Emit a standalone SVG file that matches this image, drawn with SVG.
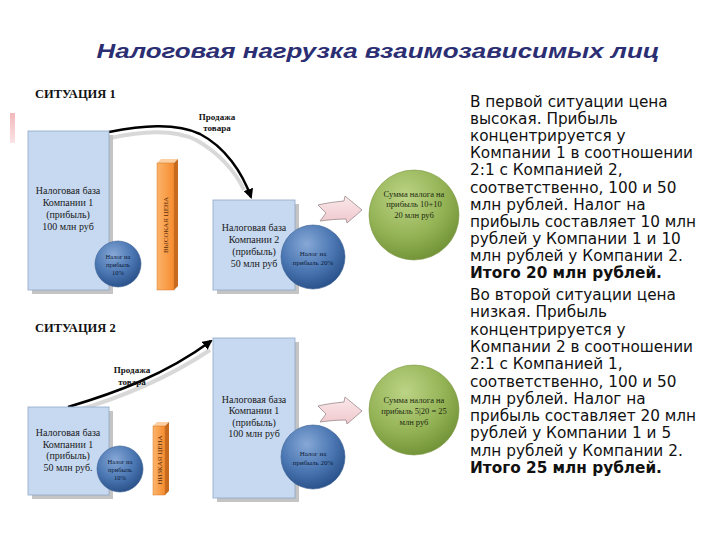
<svg xmlns="http://www.w3.org/2000/svg" width="720" height="540" viewBox="0 0 720 540">
<defs>
<style>
.title{font-family:"Liberation Sans",Arial,sans-serif;font-weight:bold;font-style:italic;font-size:21px;fill:#2b2e72}
.sit{font-family:"Liberation Serif","Times New Roman",serif;font-weight:bold;font-size:12.5px;fill:#111}
.lbl{font-family:"Liberation Serif","Times New Roman",serif;font-size:10px;fill:#1a1a1a;text-anchor:middle}
.sale{font-family:"Liberation Serif","Times New Roman",serif;font-weight:bold;font-size:9px;fill:#111;text-anchor:middle}
.small{font-family:"Liberation Serif","Times New Roman",serif;font-size:6.5px;fill:#0d1c38;text-anchor:middle}
.mid{font-family:"Liberation Serif","Times New Roman",serif;font-size:7px;fill:#0d1c38;text-anchor:middle}
.grn{font-family:"Liberation Serif","Times New Roman",serif;font-size:8.5px;fill:#1d2a10;text-anchor:middle}
.bar{font-family:"Liberation Serif","Times New Roman",serif;font-size:7px;fill:#5a2d0a;text-anchor:middle}
.body{font-family:"DejaVu Sans",Verdana,sans-serif;font-size:15.3px;fill:#111}
.box{fill:#c6d9f1;stroke:#8fa8c6;stroke-width:0.8}
.shadow{fill:#c4c4c4}
.curve{fill:none;stroke:#000;stroke-width:2.5}
.curveSh{fill:none;stroke:#d8d8d8;stroke-width:4}
.pink{fill:url(#pinkG);stroke:#9a8a8c;stroke-width:0.8}
</style>
<radialGradient id="blueG" cx="40%" cy="30%" r="70%">
<stop offset="0" stop-color="#86a8d6"/><stop offset="0.6" stop-color="#4a76b2"/><stop offset="1" stop-color="#2c538c"/>
</radialGradient>
<radialGradient id="greenG" cx="40%" cy="30%" r="75%">
<stop offset="0" stop-color="#bcd486"/><stop offset="0.6" stop-color="#93b254"/><stop offset="1" stop-color="#6f8f35"/>
</radialGradient>
<linearGradient id="orG" x1="0" y1="0" x2="1" y2="0">
<stop offset="0" stop-color="#fcb46c"/><stop offset="1" stop-color="#f68c2e"/>
</linearGradient>
<linearGradient id="pinkG" x1="0" y1="0" x2="0" y2="1">
<stop offset="0" stop-color="#fbe8ea"/><stop offset="1" stop-color="#efc8cd"/>
</linearGradient>
<linearGradient id="markG" x1="0" y1="0" x2="0" y2="1">
<stop offset="0" stop-color="#f2b8bb"/><stop offset="1" stop-color="#fbe4e5"/>
</linearGradient>
<marker id="ah" viewBox="0 0 10 10" refX="8" refY="5" markerWidth="4" markerHeight="4" orient="auto">
<path d="M0,0 L10,5 L0,10 z" fill="#000"/>
</marker>
</defs>
<rect width="720" height="540" fill="#fff"/>

<text class="title" x="378" y="58" text-anchor="middle" textLength="563" lengthAdjust="spacingAndGlyphs">Налоговая нагрузка взаимозависимых лиц</text>

<rect x="10" y="113" width="5" height="30" fill="url(#markG)"/>

<text class="sit" x="35" y="98">СИТУАЦИЯ 1</text>
<text class="sit" x="35" y="332">СИТУАЦИЯ 2</text>

<g id="connectors">
<path class="curveSh" d="M110,138 C140,132 172,128 196,140 C218,152 236,172 244,190"/>
<path class="curve" d="M109,132 C140,126 175,122 200,134 C225,147 242,172 251,197" marker-end="url(#ah)"/>
<path class="curveSh" d="M72,412 C120,398 165,380 210,350"/>
<path class="curve" d="M68,407 C115,393 165,375 211,341" marker-end="url(#ah)"/>
<path class="pink" d="M318,205 C326,203 334,202 344,201 L345,196 L362,210 L347,223 L346,219 C336,219 328,220 320,221 L326,213 Z"/>
<path class="pink" d="M318,406 C326,404 334,403 344,402 L345,397 L362,411 L347,424 L346,420 C336,420 328,421 320,422 L326,414 Z"/>
</g>

<g id="s1-company1">
<rect class="shadow" x="32" y="135" width="81" height="159"/>
<rect class="box" x="28" y="131" width="81" height="159"/>
<text class="lbl" x="68" y="194">Налоговая база</text>
<text class="lbl" x="68" y="206">Компании 1</text>
<text class="lbl" x="68" y="218">(прибыль)</text>
<text class="lbl" x="68" y="230">100 млн руб</text>
</g>
<g id="s1-tax1">
<circle cx="118" cy="264" r="23" fill="url(#blueG)" stroke="#3a5f92" stroke-width="0.6"/>
<text class="small" x="118" y="259">Налог на</text>
<text class="small" x="118" y="267">прибыль</text>
<text class="small" x="118" y="275">10%</text>
</g>
<g id="s1-price">
<path d="M157,163 L161,159 L178,159 L174,163 Z" fill="#fcd0a2"/>
<path d="M174,163 L178,159 L178,286 L174,290 Z" fill="#c86a1e"/>
<rect x="157" y="163" width="17" height="127" fill="url(#orG)" stroke="#d27a2a" stroke-width="0.5"/>
<text class="bar" transform="translate(168,225) rotate(-90)">ВЫСОКАЯ ЦЕНА</text>
</g>
<g id="s1-sale">
<text class="sale" x="217" y="120">Продажа</text>
<text class="sale" x="217" y="131">товара</text>
</g>
<g id="s1-company2">
<rect class="shadow" x="217" y="204" width="82" height="90"/>
<rect class="box" x="213" y="200" width="82" height="90"/>
<text class="lbl" x="254" y="231">Налоговая база</text>
<text class="lbl" x="254" y="243">Компании 2</text>
<text class="lbl" x="254" y="255">(прибыль)</text>
<text class="lbl" x="254" y="267">50 млн руб</text>
</g>
<g id="s1-tax2">
<circle cx="313" cy="257" r="32" fill="url(#blueG)" stroke="#3a5f92" stroke-width="0.6"/>
<text class="mid" x="313" y="256">Налог на</text>
<text class="mid" x="313" y="265">прибыль 20%</text>
</g>
<g id="s1-sum">
<circle cx="414" cy="215" r="45" fill="url(#greenG)" stroke="#7f9a4a" stroke-width="0.6"/>
<text class="grn" x="414" y="197">Сумма налога на</text>
<text class="grn" x="414" y="207">прибыль 10+10</text>
<text class="grn" x="414" y="218">20 млн руб</text>
</g>

<g id="s2-company2">
<rect class="shadow" x="32" y="411" width="81" height="88"/>
<rect class="box" x="28" y="407" width="81" height="88"/>
<text class="lbl" x="68" y="436">Налоговая база</text>
<text class="lbl" x="68" y="448">Компании 1</text>
<text class="lbl" x="68" y="459">(прибыль)</text>
<text class="lbl" x="68" y="471">50 млн руб.</text>
</g>
<g id="s2-tax1">
<circle cx="120" cy="469" r="23" fill="url(#blueG)" stroke="#3a5f92" stroke-width="0.6"/>
<text class="small" x="120" y="464">Налог на</text>
<text class="small" x="120" y="472">прибыль</text>
<text class="small" x="120" y="480">10%</text>
</g>
<g id="s2-price">
<path d="M153,426 L157,422 L169,422 L165,426 Z" fill="#fcd0a2"/>
<path d="M165,426 L169,422 L169,491 L165,495 Z" fill="#c86a1e"/>
<rect x="153" y="426" width="12" height="69" fill="url(#orG)" stroke="#d27a2a" stroke-width="0.5"/>
<text class="bar" transform="translate(161.5,460) rotate(-90)">НИЗКАЯ ЦЕНА</text>
</g>
<g id="s2-sale">
<text class="sale" x="132" y="373">Продажа</text>
<text class="sale" x="132" y="385">товара</text>
</g>
<g id="s2-company1">
<rect class="shadow" x="217" y="342" width="82" height="160"/>
<rect class="box" x="213" y="338" width="82" height="160"/>
<text class="lbl" x="254" y="403">Налоговая база</text>
<text class="lbl" x="254" y="414">Компании 1</text>
<text class="lbl" x="254" y="426">(прибыль)</text>
<text class="lbl" x="254" y="437">100 млн руб</text>
</g>
<g id="s2-tax2">
<circle cx="313" cy="457" r="32" fill="url(#blueG)" stroke="#3a5f92" stroke-width="0.6"/>
<text class="mid" x="313" y="456">Налог на</text>
<text class="mid" x="313" y="465">прибыль 20%</text>
</g>
<g id="s2-sum">
<circle cx="414" cy="410" r="45" fill="url(#greenG)" stroke="#7f9a4a" stroke-width="0.6"/>
<text class="grn" x="414" y="403">Сумма налога на</text>
<text class="grn" x="414" y="414">прибыль 5|20 = 25</text>
<text class="grn" x="414" y="425">млн руб</text>
</g>

<g id="explanation">
<text class="body">
<tspan x="470" y="107">В первой ситуации цена</tspan>
<tspan x="470" y="124.1">высокая. Прибыль</tspan>
<tspan x="470" y="141.2">концентрируется у</tspan>
<tspan x="470" y="158.3">Компании 1 в соотношении</tspan>
<tspan x="470" y="175.4">2:1 с Компанией 2,</tspan>
<tspan x="470" y="192.5">соответственно, 100 и 50</tspan>
<tspan x="470" y="209.6">млн рублей. Налог на</tspan>
<tspan x="470" y="226.7">прибыль составляет 10 млн</tspan>
<tspan x="470" y="243.8">рублей у Компании 1 и 10</tspan>
<tspan x="470" y="260.9">млн рублей у Компании 2.</tspan>
<tspan x="470" y="278" font-weight="bold">Итого 20 млн рублей.</tspan>
</text>
<text class="body">
<tspan x="470" y="300">Во второй ситуации цена</tspan>
<tspan x="470" y="317.3">низкая. Прибыль</tspan>
<tspan x="470" y="334.6">концентрируется у</tspan>
<tspan x="470" y="351.9">Компании 2 в соотношении</tspan>
<tspan x="470" y="369.2">2:1 с Компанией 1,</tspan>
<tspan x="470" y="386.5">соответственно, 100 и 50</tspan>
<tspan x="470" y="403.8">млн рублей. Налог на</tspan>
<tspan x="470" y="421.1">прибыль составляет 20 млн</tspan>
<tspan x="470" y="438.4">рублей у Компании 1 и 5</tspan>
<tspan x="470" y="455.7">млн рублей у Компании 2.</tspan>
<tspan x="470" y="473" font-weight="bold">Итого 25 млн рублей.</tspan>
</text>
</g>
</svg>
